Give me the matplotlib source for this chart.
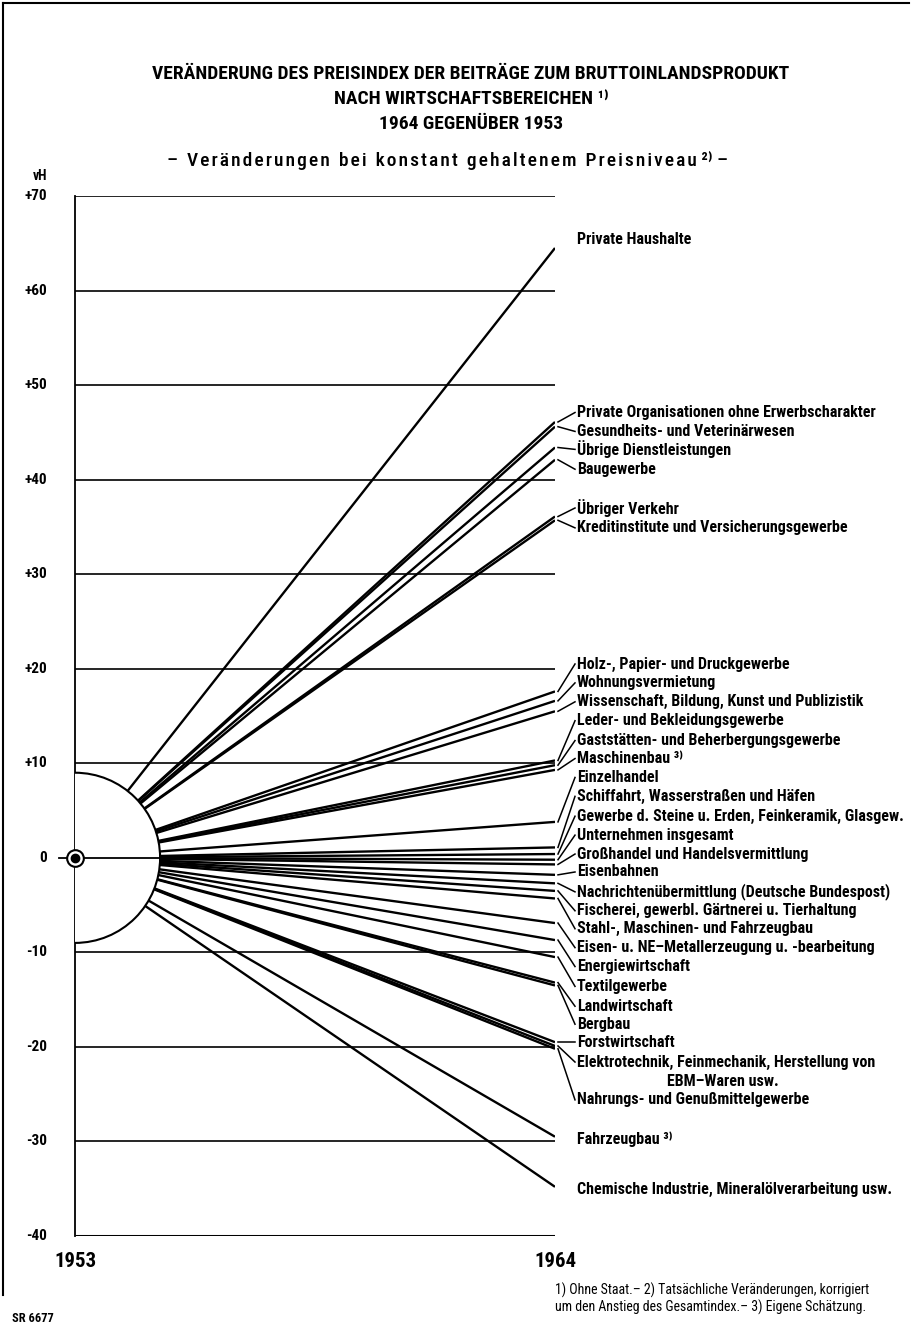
import matplotlib
matplotlib.use("Agg")
import matplotlib.pyplot as plt
from matplotlib.patches import Ellipse
from matplotlib import font_manager

# ---------------- data ----------------
sectors = [
    "Private Haushalte",
    "Private Organisationen ohne Erwerbscharakter",
    "Gesundheits- und Veterinärwesen",
    "Übrige Dienstleistungen",
    "Baugewerbe",
    "Übriger Verkehr",
    "Kreditinstitute und Versicherungsgewerbe",
    "Holz-, Papier- und Druckgewerbe",
    "Wohnungsvermietung",
    "Wissenschaft, Bildung, Kunst und Publizistik",
    "Leder- und Bekleidungsgewerbe",
    "Gaststätten- und Beherbergungsgewerbe",
    "Maschinenbau ³⁾",
    "Einzelhandel",
    "Schiffahrt, Wasserstraßen und Häfen",
    "Gewerbe d. Steine u. Erden, Feinkeramik, Glasgew.",
    "Unternehmen insgesamt",
    "Großhandel und Handelsvermittlung",
    "Eisenbahnen",
    "Nachrichtenübermittlung (Deutsche Bundespost)",
    "Fischerei, gewerbl. Gärtnerei u. Tierhaltung",
    "Stahl-, Maschinen- und Fahrzeugbau",
    "Eisen- u. NE–Metallerzeugung u. -bearbeitung",
    "Energiewirtschaft",
    "Textilgewerbe",
    "Landwirtschaft",
    "Bergbau",
    "Forstwirtschaft",
    "Elektrotechnik, Feinmechanik, Herstellung von",
    "Nahrungs- und Genußmittelgewerbe",
    "Fahrzeugbau ³⁾",
    "Chemische Industrie, Mineralölverarbeitung usw.",
]
change_1964 = [
    64.5, 46.1, 45.6, 43.4, 42.1, 36.1, 35.7,
    17.6, 16.6, 15.5, 10.3, 9.8, 9.3,
    3.8, 1.1, 0.4, -0.2, -0.7, -1.8, -2.7, -3.5, -4.3,
    -6.9, -8.7, -10.5, -13.2, -13.5,
    -19.5, -19.9, -20.2, -29.5, -34.8,
]
year_labels = ["1953", "1964"]
ytick_values = [70, 60, 50, 40, 30, 20, 10, 0, -10, -20, -30, -40]
ytick_labels = ["+70", "+60", "+50", "+40", "+30", "+20", "+10", "0",
                "-10", "-20", "-30", "-40"]

# ---------------- layout ----------------
label_slots = [65.4, 47.1, 45.1, 43.2, 41.1, 37.0, 34.9,
               20.5, 18.5, 16.5, 14.5, 12.4, 10.5,
               8.5, 6.5, 4.4, 2.4, 0.4, -1.5, -3.6, -5.6, -7.5,
               -9.5, -11.5, -13.6, -15.7, -17.6,
               -19.5, -21.6, -25.6, -29.8, -35.1]
no_leader = {"Private Haushalte", "Fahrzeugbau ³⁾",
             "Chemische Industrie, Mineralölverarbeitung usw."}

W, H = 912, 1329
fig = plt.figure(figsize=(W / 100, H / 100), dpi=100)
fig.patch.set_facecolor("white")

names = {f.name for f in font_manager.fontManager.ttflist}
MAIN = "DejaVu Sans"
for cand in ["Liberation Sans Narrow", "Roboto Condensed", "DejaVu Sans Condensed",
             "Open Sans Condensed", "Roboto", "Liberation Sans"]:
    if cand in names:
        MAIN = cand
        break
FAM = [MAIN, "DejaVu Sans"]
renderer = fig.canvas.get_renderer()


def fit_size(s, target_px, weight="bold", base=11.0):
    t = fig.text(0, 0, s, fontsize=base, family=FAM, fontweight=weight)
    w = t.get_window_extent(renderer).width
    t.remove()
    return base * target_px / w


LBL = min(fit_size("Private Organisationen ohne Erwerbscharakter", 315),
          fit_size("Gewerbe d. Steine u. Erden, Feinkeramik, Glasgew.", 326),
          12.0)

# axes: x 1953 -> px 75, 1964 -> px 555 ; y +70 -> px 196, -40 -> px 1236
ax_l, ax_r, ax_t, ax_b = 75, 555, 196, 1236
ax = fig.add_axes([ax_l / W, 1 - ax_b / H, (ax_r - ax_l) / W, (ax_b - ax_t) / H])
x0, x1 = int(year_labels[0]), int(year_labels[1])
ax.set_xlim(x0, x1)
ax.set_ylim(-40, 70)
for s in ["top", "right", "bottom"]:
    ax.spines[s].set_visible(False)
ax.spines["left"].set_linewidth(1.3)
ax.set_xticks([])
ax.set_yticks([])

for v in ytick_values:
    if v == 0:
        continue
    ax.plot([x0, x1], [v, v], color="black", lw=2.2 if v == -40 else 1.2,
            zorder=1, solid_capstyle="butt")

for v in change_1964:
    ax.plot([x0, x1], [0, v], color="black", lw=1.7, zorder=2,
            solid_capstyle="butt")

px_per_x = (ax_r - ax_l) / (x1 - x0)
px_per_y = (ax_b - ax_t) / 110
r_units = 9.0
rx = r_units * px_per_y / px_per_x
circ = Ellipse((x0, 0), 2 * rx, 2 * r_units, facecolor="white",
               edgecolor="black", lw=1.5, zorder=3)
ax.add_patch(circ)
ax.plot([x0, x0 + rx], [0, 0], color="black", lw=1.3, zorder=4)

ax.plot([x0], [0], marker="o", ms=12, mfc="white", mec="black", mew=1.5,
        zorder=6, clip_on=False)
ax.plot([x0], [0], marker="o", ms=6, mfc="black", mec="black",
        zorder=7, clip_on=False)
ax.plot([x0 - 16 / px_per_x, x0 - 6 / px_per_x], [0, 0], color="black",
        lw=1.3, clip_on=False, zorder=5)

TICK = LBL * 0.95
for v, lab in zip(ytick_values, ytick_labels):
    xx = x0 - 28 / px_per_x
    ax.text(xx, v, lab, ha="right", va="center", fontsize=TICK,
            family=FAM, fontweight="bold", clip_on=False)
ax.text(x0 - 42 / px_per_x, 72.1, "vH", ha="left", va="center",
        fontsize=TICK * 0.9, family=FAM, fontweight="bold", clip_on=False)

for yl in year_labels:
    ax.text(int(yl), -42.7, yl, ha="center", va="center", fontsize=LBL * 1.3,
            family=FAM, fontweight="bold", clip_on=False)

lead_a = x1 + 3 / px_per_x
lead_b = x1 + 20 / px_per_x
text_x = x1 + 22 / px_per_x
for name, v, ly in zip(sectors, change_1964, label_slots):
    if name not in no_leader:
        ax.plot([lead_a, lead_b], [v, ly], color="black", lw=1.1,
                clip_on=False, zorder=2)
    ax.text(text_x, ly, name, ha="left", va="center", fontsize=LBL,
            family=FAM, fontweight="bold", clip_on=False)
    if name.startswith("Elektrotechnik"):
        ax.text(x1 + 168 / px_per_x, ly - 19 / px_per_y, "EBM–Waren usw.",
                ha="center", va="center", fontsize=LBL, family=FAM,
                fontweight="bold", clip_on=False)


def ftext(xp, yp, s, **kw):
    fig.text(xp / W, 1 - yp / H, s, **kw)


T1 = "VERÄNDERUNG DES PREISINDEX DER BEITRÄGE ZUM BRUTTOINLANDSPRODUKT"
TS = min(fit_size(T1, 707), 14)
ftext(471, 74, T1, ha="center", va="center", fontsize=TS, fontweight="bold", family=FAM)
ftext(471, 99, "NACH WIRTSCHAFTSBEREICHEN ¹⁾",
      ha="center", va="center", fontsize=TS, fontweight="bold", family=FAM)
ftext(471, 124, "1964 GEGENÜBER 1953",
      ha="center", va="center", fontsize=TS, fontweight="bold", family=FAM)

hs = "\u200a"
words = ["Veränderungen", "bei", "konstant", "gehaltenem", "Preisniveau"]
SUB = "–  " + "  ".join(hs.join(w) for w in words) + " ²⁾ –"
SS = min(fit_size(SUB, 605, weight="medium"), 14)
ftext(448, 160, SUB, ha="center", va="center", fontsize=SS, family=FAM,
      fontweight="medium")

F1 = "1) Ohne Staat.– 2) Tatsächliche Veränderungen, korrigiert"
FS = min(fit_size(F1, 350, weight="normal"), 10)
ftext(555, 1290, F1, ha="left", va="center", fontsize=FS, family=FAM)
ftext(555, 1307, "um den Anstieg des Gesamtindex.– 3) Eigene Schätzung.",
      ha="left", va="center", fontsize=FS, family=FAM)
ftext(12, 1318, "SR 6677", ha="left", va="center", fontsize=FS * 0.9,
      family=FAM, fontweight="bold")

fig.add_artist(plt.Line2D([3 / W, 3 / W], [1 - 3 / H, 1 - 1295 / H],
                          color="black", lw=1.5))
fig.add_artist(plt.Line2D([3 / W, 909 / W], [1 - 3 / H, 1 - 3 / H],
                          color="black", lw=1.5))

fig.savefig("out.png", dpi=100, facecolor="white")
